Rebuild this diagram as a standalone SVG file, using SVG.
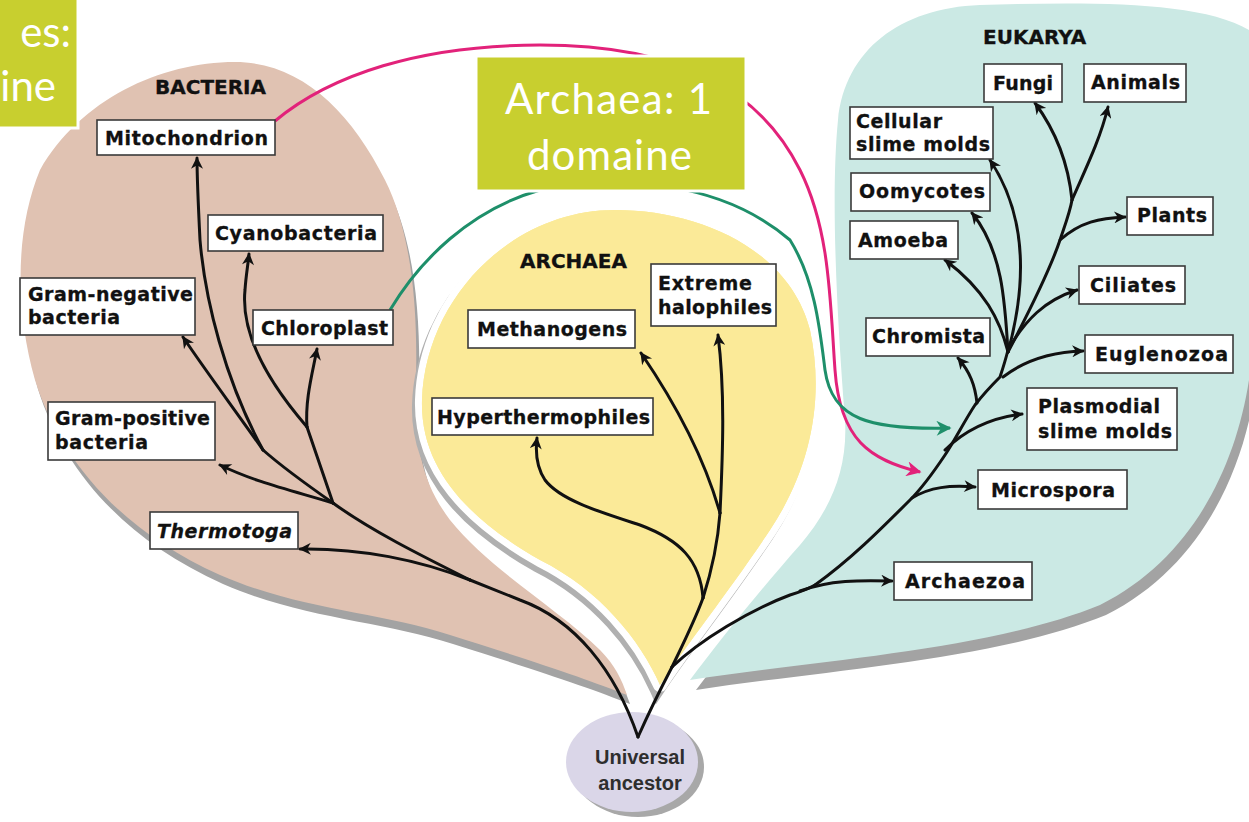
<svg xmlns="http://www.w3.org/2000/svg" width="1249" height="822" viewBox="0 0 1249 822">
<style>
.box{fill:#fff;stroke:#3a3a3a;stroke-width:1.6}
.lbl{font-family:"DejaVu Sans","Liberation Sans",Arial,sans-serif;font-weight:bold;font-size:19px;fill:#111;stroke:#111;stroke-width:0.3}
.hdr{font-family:"DejaVu Sans","Liberation Sans",Arial,sans-serif;font-weight:bold;font-size:20px;fill:#111;stroke:#111;stroke-width:0.3}
.br{fill:none;stroke:#111;stroke-width:3;stroke-linecap:round}
.arr{marker-end:url(#ah)}
.slide{fill:#c8cf2f;stroke:#fff;stroke-width:3}
.st{font-family:Lato,"Open Sans",sans-serif;font-size:42px;fill:#fff}
.anc{font-family:"Liberation Sans",Arial,sans-serif;font-size:20px;font-weight:bold;fill:#2e2e2e}
</style>
<defs>
<marker id="ah" viewBox="0 0 10 10" refX="9" refY="5" markerWidth="15" markerHeight="12" markerUnits="userSpaceOnUse" orient="auto"><path d="M0,0 L10,5 L0,10 L3,5 Z" fill="#111"/></marker>
<marker id="ahp" viewBox="0 0 10 10" refX="9" refY="5" markerWidth="20" markerHeight="15" markerUnits="userSpaceOnUse" orient="auto"><path d="M0,0 L10,5 L0,10 L3,5 Z" fill="#e2227a"/></marker>
<marker id="ahg" viewBox="0 0 10 10" refX="9" refY="5" markerWidth="20" markerHeight="15" markerUnits="userSpaceOnUse" orient="auto"><path d="M0,0 L10,5 L0,10 L3,5 Z" fill="#1e8f6a"/></marker>
</defs>
<rect x="0" y="0" width="1249" height="822" fill="#fff"/>

<g id="domains">
<path d="M235,62 C300,62 350,110 385,180 C410,230 418,300 416,380 C414,440 420,480 450,520 C490,570 560,610 600,650 C615,665 622,680 627,695 C590,680 530,660 450,635 C380,612 300,610 220,575 C120,530 60,460 35,380 C15,310 15,230 40,170 C80,100 160,62 235,62 Z" fill="#a3a3a3" transform="translate(3,9)"/>
<path d="M235,62 C300,62 350,110 385,180 C410,230 418,300 416,380 C414,440 420,480 450,520 C490,570 560,610 600,650 C615,665 622,680 627,695 C590,680 530,660 450,635 C380,612 300,610 220,575 C120,530 60,460 35,380 C15,310 15,230 40,170 C80,100 160,62 235,62 Z" fill="#e0c2b2"/>
<path d="M690,680 C720,640 760,590 800,545 C830,510 848,470 845,420 C838,330 830,200 838,120 C845,50 900,8 980,5 C1080,2 1200,0 1249,30 L1249,380 C1235,470 1190,560 1100,605 C990,650 820,660 690,680 Z" fill="#a3a3a3" transform="translate(6,10)"/>
<path d="M690,680 C720,640 760,590 800,545 C830,510 848,470 845,420 C838,330 830,200 838,120 C845,50 900,8 980,5 C1080,2 1200,0 1249,30 L1249,380 C1235,470 1190,560 1100,605 C990,650 820,660 690,680 Z" fill="#cbe9e4"/>
<path d="M615,210 C700,210 790,250 810,330 C825,400 810,470 770,530 C730,590 690,640 660,685 C640,640 600,590 540,560 C470,520 420,470 422,400 C425,300 510,210 615,210 Z" fill="#b0b0b0" stroke="#b0b0b0" stroke-width="14" transform="translate(-3,5)"/>
<path d="M615,210 C700,210 790,250 810,330 C825,400 810,470 770,530 C730,590 690,640 660,685 C640,640 600,590 540,560 C470,520 420,470 422,400 C425,300 510,210 615,210 Z" fill="#fbea98" stroke="#fff" stroke-width="14" stroke-linejoin="round" paint-order="stroke"/>
<path d="M615,210 C700,210 790,250 810,330 C825,400 810,470 770,530 C730,590 690,640 660,685 C640,640 600,590 540,560 C470,520 420,470 422,400 C425,300 510,210 615,210 Z" fill="#fbea98"/>
</g>

<g id="ancestor">
<ellipse cx="638" cy="767" rx="66" ry="50" fill="#a8a8a8"/>
<ellipse cx="632" cy="762" rx="66" ry="50" fill="#dad6e8"/>
<text class="anc" x="640" y="764" text-anchor="middle">Universal</text>
<text class="anc" x="640" y="790" text-anchor="middle">ancestor</text>
</g>

<g id="connectors">
<path d="M275,121 C330,75 420,45 540,45 C680,45 760,90 800,170 C830,230 830,300 835,370 C840,440 870,460 920,472" fill="none" stroke="#e2227a" stroke-width="3" marker-end="url(#ahp)"/>
<path d="M390,310 C420,260 470,210 540,190 C620,175 720,180 790,240 C815,280 820,330 825,370 C832,420 870,430 950,428" fill="none" stroke="#1e8f6a" stroke-width="3" marker-end="url(#ahg)"/>

<path class="br" d="M638,737 C615,670 575,620 520,600 C500,592 485,586 470,580"/>
<path class="br arr" d="M470,580 C420,560 360,548 300,549"/>
<path class="br" d="M470,580 C420,555 370,530 333,503"/>
<path class="br arr" d="M333,503 C290,490 255,482 220,465"/>
<path class="br" d="M333,503 C300,480 280,465 263,450"/>
<path class="br" d="M333,503 C325,480 315,450 307,427"/>
<path class="br arr" d="M307,427 C275,390 240,340 245,290 C246,275 248,265 249,254"/>
<path class="br arr" d="M307,427 C305,400 312,375 317,349"/>
<path class="br arr" d="M263,450 C235,410 205,370 183,337"/>
<path class="br arr" d="M263,450 C225,380 205,300 200,240 C198,200 197,180 197,158"/>

<path class="br" d="M638,737 C650,710 660,690 672,667"/>
<path class="br" d="M672,667 C685,640 695,620 703,598"/>
<path class="br" d="M703,598 C712,570 718,540 720,513"/>
<path class="br arr" d="M703,598 C700,560 680,540 640,525 C600,512 560,500 545,480 C537,468 535,455 537,438"/>
<path class="br arr" d="M720,513 C723,450 725,390 718,335"/>
<path class="br arr" d="M720,513 C705,460 680,410 641,353"/>

<path class="br" d="M672,667 C700,640 750,610 790,595 C800,592 808,589 815,585"/>
<path class="br arr" d="M800,591 C830,580 860,580 892,581"/>
<path class="br" d="M815,585 C850,560 880,530 910,500 C925,485 935,470 945,455 C955,440 965,420 975,405 C985,392 995,382 1000,377 C1003,368 1006,358 1008,350"/>
<path class="br arr" d="M912,498 C930,487 950,485 975,487"/>
<path class="br arr" d="M945,450 C965,430 990,418 1022,414"/>
<path class="br arr" d="M977,403 C975,385 970,372 958,358"/>
<path class="br arr" d="M1003,377 C1025,360 1050,352 1083,351"/>
<path class="br arr" d="M1008,350 C1025,320 1045,300 1077,290"/>
<path class="br arr" d="M1008,352 C1000,320 985,290 945,260"/>
<path class="br arr" d="M1008,352 C1005,300 1002,250 972,213"/>
<path class="br arr" d="M1008,352 C1025,290 1030,220 990,160"/>
<path class="br" d="M1008,352 C1030,310 1050,270 1060,240 C1065,225 1070,212 1072,200"/>
<path class="br arr" d="M1060,240 C1080,222 1100,218 1125,217"/>
<path class="br arr" d="M1072,200 C1068,160 1055,130 1035,103"/>
<path class="br arr" d="M1072,200 C1085,170 1100,140 1108,107"/>
</g>

<g id="headers">
<text class="hdr" x="155" y="94">BACTERIA</text>
<text class="hdr" x="520" y="268">ARCHAEA</text>
<text class="hdr" x="983" y="44">EUKARYA</text>
</g>

<g id="mitochondrion"><rect class="box" x="97" y="120" width="178" height="35"/><text class="lbl" x="105" y="145" textLength="163">Mitochondrion</text></g>
<g id="cyanobacteria"><rect class="box" x="208" y="215" width="175" height="36"/><text class="lbl" x="215" y="240" textLength="162">Cyanobacteria</text></g>
<g id="gram-negative"><rect class="box" x="20" y="278" width="175" height="57"/><text class="lbl" x="28" y="301" textLength="165">Gram-negative</text><text class="lbl" x="28" y="324" textLength="92">bacteria</text></g>
<g id="chloroplast"><rect class="box" x="253" y="310" width="140" height="35"/><text class="lbl" x="261" y="335" textLength="127">Chloroplast</text></g>
<g id="gram-positive"><rect class="box" x="48" y="402" width="167" height="58"/><text class="lbl" x="55" y="425" textLength="155">Gram-positive</text><text class="lbl" x="55" y="449" textLength="93">bacteria</text></g>
<g id="thermotoga"><rect class="box" x="150" y="512" width="148" height="37"/><text class="lbl" x="157" y="538" font-style="italic" textLength="135">Thermotoga</text></g>

<g id="methanogens"><rect class="box" x="468" y="310" width="167" height="38"/><text class="lbl" x="477" y="336" textLength="150">Methanogens</text></g>
<g id="extreme-halophiles"><rect class="box" x="651" y="264" width="125" height="62"/><text class="lbl" x="658" y="290" textLength="94">Extreme</text><text class="lbl" x="658" y="314" textLength="114">halophiles</text></g>
<g id="hyperthermophiles"><rect class="box" x="432" y="398" width="221" height="37"/><text class="lbl" x="437" y="424" textLength="213">Hyperthermophiles</text></g>

<g id="fungi"><rect class="box" x="984" y="64" width="78" height="38"/><text class="lbl" x="993" y="90" textLength="60">Fungi</text></g>
<g id="animals"><rect class="box" x="1084" y="64" width="102" height="38"/><text class="lbl" x="1091" y="89" textLength="89">Animals</text></g>
<g id="cellular-slime-molds"><rect class="box" x="850" y="107" width="143" height="52"/><text class="lbl" x="856" y="128" textLength="86">Cellular</text><text class="lbl" x="856" y="151" textLength="134">slime molds</text></g>
<g id="oomycotes"><rect class="box" x="851" y="173" width="139" height="38"/><text class="lbl" x="859" y="198" textLength="126">Oomycotes</text></g>
<g id="amoeba"><rect class="box" x="850" y="221" width="108" height="38"/><text class="lbl" x="858" y="247" textLength="90">Amoeba</text></g>
<g id="plants"><rect class="box" x="1127" y="197" width="86" height="38"/><text class="lbl" x="1137" y="222" textLength="70">Plants</text></g>
<g id="ciliates"><rect class="box" x="1079" y="266" width="106" height="38"/><text class="lbl" x="1090" y="292" textLength="86">Ciliates</text></g>
<g id="chromista"><rect class="box" x="866" y="318" width="124" height="38"/><text class="lbl" x="872" y="343" textLength="113">Chromista</text></g>
<g id="euglenozoa"><rect class="box" x="1085" y="335" width="148" height="38"/><text class="lbl" x="1095" y="361" textLength="133">Euglenozoa</text></g>
<g id="plasmodial-slime-molds"><rect class="box" x="1027" y="388" width="150" height="62"/><text class="lbl" x="1038" y="413" textLength="122">Plasmodial</text><text class="lbl" x="1038" y="438" textLength="134">slime molds</text></g>
<g id="microspora"><rect class="box" x="978" y="470" width="149" height="39"/><text class="lbl" x="991" y="497" textLength="124">Microspora</text></g>
<g id="archaezoa"><rect class="box" x="894" y="562" width="138" height="38"/><text class="lbl" x="905" y="588" textLength="120">Archaezoa</text></g>

<g id="slide-label-left"><rect class="slide" x="-5" y="-5" width="83" height="133"/><text class="st" x="71" y="47" text-anchor="end" font-size="46">es:</text><text class="st" x="56" y="101" text-anchor="end" font-size="44">ine</text></g>
<g id="slide-label-archaea"><rect class="slide" x="476" y="56" width="270" height="135"/><text class="st" x="505" y="114" textLength="207">Archaea: 1</text><text class="st" x="527" y="170" textLength="165">domaine</text></g>
</svg>
